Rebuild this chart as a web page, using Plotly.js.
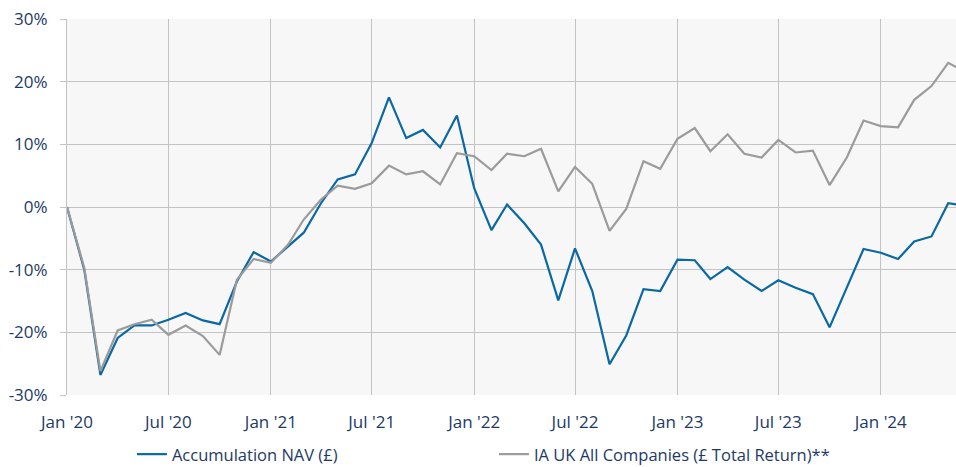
<!DOCTYPE html>
<html>
<head>
<meta charset="utf-8">
<script src="https://cdn.plot.ly/plotly-3.0.1.min.js"></script>
<style>html,body{margin:0;padding:0;background:#fff;}#chart{width:956px;height:467px;}</style>
</head>
<body>
<div id="chart"></div>
<script>
const months = [
  "2020-01-01","2020-02-01","2020-03-01","2020-04-01","2020-05-01","2020-06-01",
  "2020-07-01","2020-08-01","2020-09-01","2020-10-01","2020-11-01","2020-12-01",
  "2021-01-01","2021-02-01","2021-03-01","2021-04-01","2021-05-01","2021-06-01",
  "2021-07-01","2021-08-01","2021-09-01","2021-10-01","2021-11-01","2021-12-01",
  "2022-01-01","2022-02-01","2022-03-01","2022-04-01","2022-05-01","2022-06-01",
  "2022-07-01","2022-08-01","2022-09-01","2022-10-01","2022-11-01","2022-12-01",
  "2023-01-01","2023-02-01","2023-03-01","2023-04-01","2023-05-01","2023-06-01",
  "2023-07-01","2023-08-01","2023-09-01","2023-10-01","2023-11-01","2023-12-01",
  "2024-01-01","2024-02-01","2024-03-01","2024-04-01","2024-05-01","2024-06-01"
];
const accumulationNav = [
  0, -10.0, -26.8, -20.9, -18.9, -18.9,
  -18.0, -16.9, -18.1, -18.7, -11.9, -7.2,
  -8.7, -6.3, -4.1, 0.6, 4.4, 5.2,
  10.2, 17.5, 11.0, 12.3, 9.5, 14.6,
  3.0, -3.7, 0.4, -2.6, -6.0, -14.9,
  -6.6, -13.4, -25.1, -20.5, -13.1, -13.4,
  -8.4, -8.5, -11.5, -9.6, -11.6, -13.4,
  -11.7, -12.9, -13.9, -19.2, -12.9, -6.7,
  -7.3, -8.3, -5.5, -4.7, 0.6, 0.2
];
const iaUkAllCompanies = [
  0, -9.7, -26.2, -19.7, -18.7, -18.0,
  -20.4, -18.9, -20.6, -23.6, -11.6, -8.3,
  -8.9, -6.0, -2.0, 1.2, 3.4, 2.9,
  3.8, 6.6, 5.2, 5.7, 3.6, 8.6,
  8.1, 5.9, 8.5, 8.1, 9.3, 2.5,
  6.4, 3.7, -3.8, -0.3, 7.3, 6.1,
  10.9, 12.6, 8.9, 11.6, 8.5, 7.9,
  10.7, 8.7, 9.0, 3.5, 7.9, 13.8,
  12.9, 12.7, 17.1, 19.3, 23.0, 21.5
];
const seriesNames = ["Accumulation NAV (£)", "IA UK All Companies (£ Total Return)**"];
const yTickVals = [-30, -20, -10, 0, 10, 20, 30];
const yTickText = ["-30%", "-20%", "-10%", "0%", "10%", "20%", "30%"];

const labelColor = "#1b3a66";
const gridColor = "#c3c3c3";
const font = "'Open Sans', 'Liberation Sans', sans-serif";

const traces = [
  {x: months, y: accumulationNav, name: seriesNames[0], type: "scatter", mode: "lines",
   line: {color: "#0a68a3", width: 2.2}, cliponaxis: true},
  {x: months, y: iaUkAllCompanies, name: seriesNames[1], type: "scatter", mode: "lines",
   line: {color: "#9b9b9b", width: 2.2}, cliponaxis: true}
];

const layout = {
  width: 956, height: 467,
  margin: {l: 67, r: 0, t: 19, b: 72, autoexpand: false},
  paper_bgcolor: "#ffffff",
  plot_bgcolor: "#f7f7f7",
  font: {family: font, size: 16, color: labelColor},
  showlegend: true,
  legend: {
    orientation: "h", xref: "container", yref: "paper",
    x: 0.138, xanchor: "left", y: -0.158, yanchor: "middle",
    entrywidth: 317, itemwidth: 30,
    font: {family: font, size: 16.5, color: labelColor},
    bgcolor: "rgba(0,0,0,0)"
  },
  xaxis: {
    type: "date",
    range: ["2020-01-01", "2024-05-15"],
    tick0: "2020-01-01", dtick: "M6",
    tickformat: "%b '%y",
    showgrid: true, gridcolor: gridColor, gridwidth: 1,
    zeroline: false, showline: false,
    ticks: "", ticklabelstandoff: 15,
    tickfont: {family: font, size: 17, color: labelColor}
  },
  yaxis: {
    range: [-30, 30],
    tickvals: yTickVals, ticktext: yTickText,
    showgrid: true, gridcolor: gridColor, gridwidth: 1,
    zeroline: false, showline: true, linecolor: gridColor, linewidth: 1,
    ticks: "outside", ticklen: 6, tickcolor: gridColor, tickwidth: 1,
    ticklabelstandoff: 9,
    tickfont: {family: font, size: 17, color: labelColor}
  }
};

Plotly.newPlot("chart", traces, layout, {displayModeBar: false, staticPlot: true});
</script>
</body>
</html>
